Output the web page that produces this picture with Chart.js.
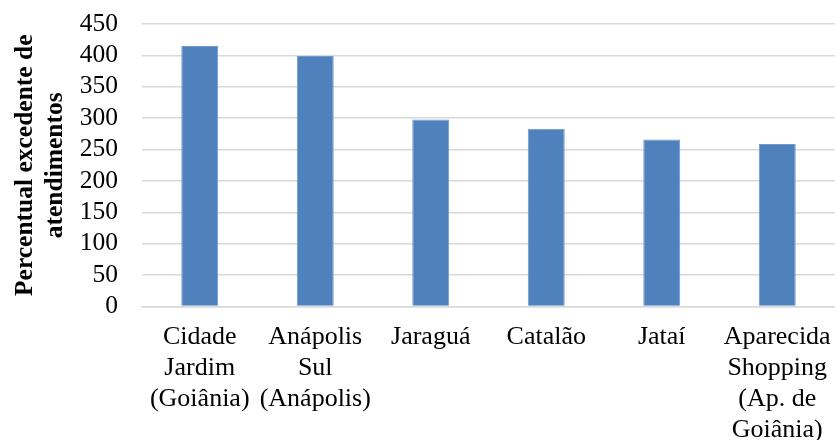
<!DOCTYPE html>
<html>
<head>
<meta charset="utf-8">
<script src="https://cdn.jsdelivr.net/npm/chart.js@4/dist/chart.umd.min.js"></script>
<style>
  html, body { margin: 0; padding: 0; background: #fff; }
  #wrap { width: 835px; height: 440px; }
</style>
</head>
<body>
<div id="wrap"><canvas id="myChart" width="835" height="440"></canvas></div>
<script>
// Chart data
const categories = [
    ['Cidade', 'Jardim', '(Goiânia)'],
    ['Anápolis', 'Sul', '(Anápolis)'],
    'Jaraguá',
    'Catalão',
    'Jataí',
    ['Aparecida', 'Shopping', '(Ap. de', 'Goiânia)']
];
const values = [415, 399, 298, 283, 266, 259];
const yTitle = ['Percentual excedente de', 'atendimentos'];

const serif = "'Liberation Serif', 'Times New Roman', serif";

let ctx = document.getElementById('myChart').getContext('2d');
let chart = new Chart(ctx, {
    type: 'bar',
    data: {
        labels: categories,
        datasets: [{
            label: 'Percentual',
            data: values,
            backgroundColor: '#4f81bd',
            borderColor: '#6f98cb',
            borderWidth: 1,
            barPercentage: 1,
            categoryPercentage: 0.32
        }]
    },
    options: {
        responsive: false,
        animation: false,
        layout: {
            padding: 0
        },
        plugins: {
            legend: { display: false },
            tooltip: { enabled: false }
        },
        scales: {
            y: {
                min: 0,
                max: 450,
                // pin the plot area to where it sits in the original
                afterFit: function (scale) {
                    scale.width = 142;
                    scale.paddingTop = 24;
                    scale.paddingBottom = 0;
                },
                ticks: {
                    stepSize: 50,
                    autoSkip: false,
                    color: '#000',
                    padding: 24,
                    font: { family: serif, size: 25.5, lineHeight: 1.1 }
                },
                grid: {
                    color: '#d9d9d9',
                    lineWidth: 1.5,
                    drawTicks: false
                },
                border: { display: false },
                title: {
                    display: true,
                    text: yTitle,
                    color: '#000',
                    padding: { top: 11, bottom: 0 },
                    font: { family: serif, size: 25.5, weight: 'bold', lineHeight: 1.16 }
                }
            },
            x: {
                afterFit: function (scale) {
                    scale.height = 133.5;
                    scale.paddingLeft = 0;
                    scale.paddingRight = 0;
                },
                ticks: {
                    color: '#000',
                    padding: 15,
                    maxRotation: 0,
                    autoSkip: false,
                    font: { family: serif, size: 26, lineHeight: 1.19 }
                },
                grid: { display: false, drawTicks: false },
                border: { color: '#d9d9d9', width: 1.5 }
            }
        }
    }
});
</script>
</body>
</html>
